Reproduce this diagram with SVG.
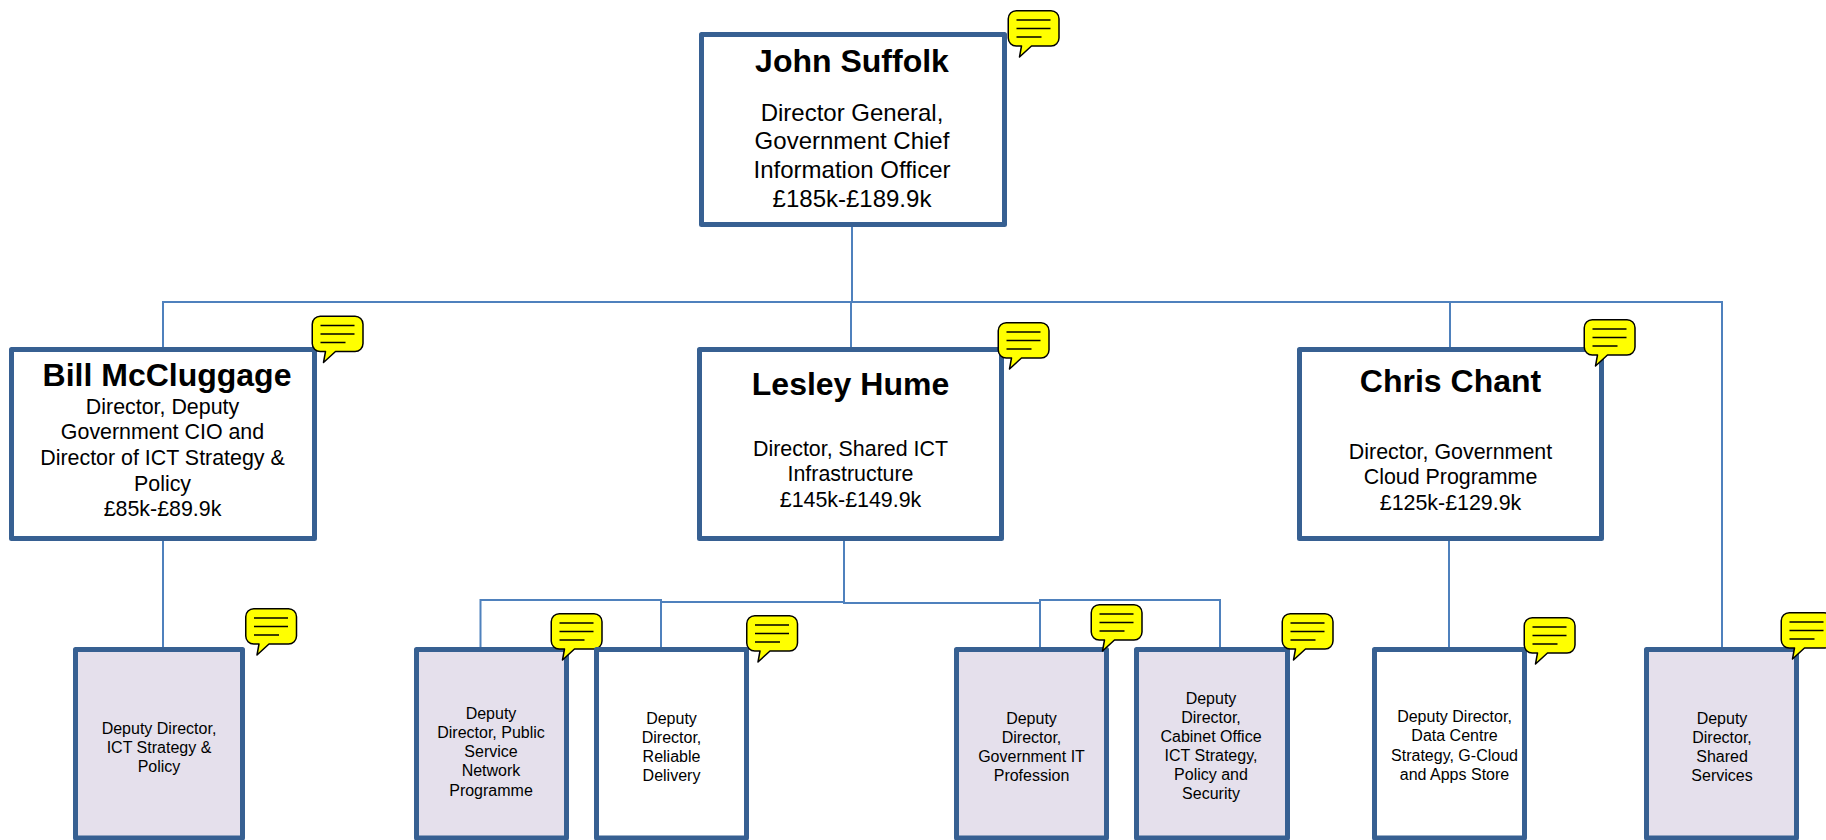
<svg xmlns="http://www.w3.org/2000/svg" width="1826" height="840" viewBox="0 0 1826 840">
<style>
text{font-family:"Liberation Sans",Arial,sans-serif;fill:#000;text-anchor:middle}
.box{fill:#fff;stroke:#376092;stroke-width:5;stroke-linejoin:round}
.sh{fill:#e5e0ec}
.t{font-size:32px;font-weight:bold}
.b1{font-size:24px}
.b2{font-size:21.400px}
.b3{font-size:16px}
.c{fill:none;stroke:#4f81bd;stroke-width:2}
.bb{fill:#ff0;stroke:#000;stroke-width:1.500;stroke-linejoin:round}
.bl{stroke:#000;stroke-width:1.500;fill:none}
</style>
<defs>
<g id="bubble">
<path class="bb" d="M8.750 .750H43.500A8 8 0 0 1 51.500 8.750V28A8 8 0 0 1 43.500 36H24L12 47L14 36H8.750A8 8 0 0 1 .750 28V8.750A8 8 0 0 1 8.750 .750Z"/>
<path class="bl" d="M9 10H43M9 18.500H43M9 27H34"/>
</g>
</defs>
<rect width="1826" height="840" fill="#fff"/>
<g id="connectors">
<path class="c" d="M852 226V302M163 347V302H1722V647M851 302V347M1450 302V347M163 541V648M844 541V602M661 602H844V603H1040M480.500 648V600H661V648M1040 648V600H1220V648M1449 541V648"/>
</g>
<g id="john"><rect class="box" x="701.500" y="34.500" width="303" height="190"/>
<text class="t" x="852" y="71.500">John Suffolk</text>
<text class="b1" x="852" y="121">Director General,</text>
<text class="b1" x="852" y="149">Government Chief</text>
<text class="b1" x="852" y="178">Information Officer</text>
<text class="b1" x="852" y="207">£185k-£189.9k</text>
<use href="#bubble" x="1007.500" y="10"/></g>
<g id="bill"><rect class="box" x="11.500" y="349.500" width="303" height="189"/>
<text class="t" x="167" y="386">Bill McCluggage</text>
<text class="b2" x="162.500" y="414">Director, Deputy</text>
<text class="b2" x="162.500" y="439">Government CIO and</text>
<text class="b2" x="162.500" y="465">Director of ICT Strategy &amp;</text>
<text class="b2" x="162.500" y="491">Policy</text>
<text class="b2" x="162.500" y="516">£85k-£89.9k</text>
<use href="#bubble" x="311.500" y="315.500"/></g>
<g id="lesley"><rect class="box" x="699.500" y="349.500" width="302" height="189"/>
<text class="t" x="850.500" y="395">Lesley Hume</text>
<text class="b2" x="850.500" y="456">Director, Shared ICT</text>
<text class="b2" x="850.500" y="481">Infrastructure</text>
<text class="b2" x="850.500" y="507">£145k-£149.9k</text>
<use href="#bubble" x="997.500" y="322"/></g>
<g id="chris"><rect class="box" x="1299.500" y="349.500" width="302" height="189"/>
<text class="t" x="1450.500" y="392">Chris Chant</text>
<text class="b2" x="1450.500" y="459">Director, Government</text>
<text class="b2" x="1450.500" y="484">Cloud Programme</text>
<text class="b2" x="1450.500" y="510">£125k-£129.9k</text>
<use href="#bubble" x="1583.500" y="319"/></g>
<g id="dd-ict"><rect class="box sh" x="75.500" y="649.500" width="167" height="188.500"/>
<text class="b3" x="159" y="734">Deputy Director,</text>
<text class="b3" x="159" y="753">ICT Strategy &amp;</text>
<text class="b3" x="159" y="772">Policy</text>
<use href="#bubble" x="245" y="608"/></g>
<g id="dd-psn"><rect class="box sh" x="416.500" y="649.500" width="150" height="188.500"/>
<text class="b3" x="491" y="719">Deputy</text>
<text class="b3" x="491" y="738">Director, Public</text>
<text class="b3" x="491" y="757">Service</text>
<text class="b3" x="491" y="776">Network</text>
<text class="b3" x="491" y="796">Programme</text>
<use href="#bubble" x="550.500" y="613"/></g>
<g id="dd-rel"><rect class="box" x="596.500" y="649.500" width="150" height="188.500"/>
<text class="b3" x="671.500" y="724">Deputy</text>
<text class="b3" x="671.500" y="743">Director,</text>
<text class="b3" x="671.500" y="762">Reliable</text>
<text class="b3" x="671.500" y="781">Delivery</text>
<use href="#bubble" x="746" y="615"/></g>
<g id="dd-prof"><rect class="box sh" x="956.500" y="649.500" width="150" height="188.500"/>
<text class="b3" x="1031.500" y="724">Deputy</text>
<text class="b3" x="1031.500" y="743">Director,</text>
<text class="b3" x="1031.500" y="762">Government IT</text>
<text class="b3" x="1031.500" y="781">Profession</text>
<use href="#bubble" x="1090.500" y="604"/></g>
<g id="dd-cab"><rect class="box sh" x="1136.500" y="649.500" width="151" height="188.500"/>
<text class="b3" x="1211" y="704">Deputy</text>
<text class="b3" x="1211" y="723">Director,</text>
<text class="b3" x="1211" y="742">Cabinet Office</text>
<text class="b3" x="1211" y="761">ICT Strategy,</text>
<text class="b3" x="1211" y="780">Policy and</text>
<text class="b3" x="1211" y="799">Security</text>
<use href="#bubble" x="1281.500" y="613"/></g>
<g id="dd-dc"><rect class="box" x="1374.500" y="649.500" width="150" height="188.500"/>
<text class="b3" x="1454.500" y="722">Deputy Director,</text>
<text class="b3" x="1454.500" y="741">Data Centre</text>
<text class="b3" x="1454.500" y="761">Strategy, G-Cloud</text>
<text class="b3" x="1454.500" y="780">and Apps Store</text>
<use href="#bubble" x="1523.500" y="617"/></g>
<g id="dd-ss"><rect class="box sh" x="1646.500" y="649.500" width="150" height="188.500"/>
<text class="b3" x="1722" y="724">Deputy</text>
<text class="b3" x="1722" y="743">Director,</text>
<text class="b3" x="1722" y="762">Shared</text>
<text class="b3" x="1722" y="781">Services</text>
<use href="#bubble" x="1780.500" y="612"/></g>
</svg>
